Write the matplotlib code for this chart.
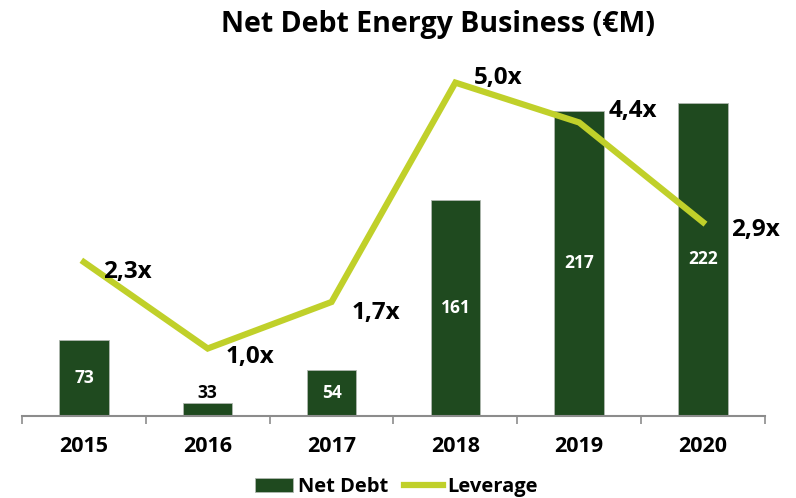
import matplotlib.pyplot as plt
import numpy as np

plt.rcParams['font.family'] = ['Open Sans', 'DejaVu Sans']
plt.rcParams['font.weight'] = 'bold'

years = ['2015', '2016', '2017', '2018', '2019', '2020']
net_debt = [73, 33, 54, 161, 217, 222]
leverage = [2.3, 1.0, 1.7, 5.0, 4.4, 2.9]
leverage_labels = ['2,3x', '1,0x', '1,7x', '5,0x', '4,4x', '2,9x']

bar_color = '#1f4a1f'
line_color = '#c0d02a'

fig = plt.figure(figsize=(7.96, 4.98), dpi=100)
ax = fig.add_axes([0.0276, 0.1647, 0.9334, 0.7148])
x = np.arange(len(years))

bars = ax.bar(x, net_debt, width=0.4, color=bar_color, edgecolor='#b0b8b0',
              linewidth=0.6, label='Net Debt', zorder=2)
ax.set_xlim(-0.5, 5.5)
ax.set_ylim(25, 249)

# etiquetas de barras
for xi, v in zip(x, net_debt):
    if v < 40:
        ax.text(xi, v + 0.5, str(v), ha='center', va='bottom', fontsize=12.5,
                fontweight='bold', color='black', zorder=5)
    else:
        ax.text(xi, 25 + (v - 25) / 2, str(v), ha='center', va='center',
                fontsize=12.5, fontweight='bold', color='white', zorder=5)

ax2 = ax.twinx()
ax2.set_ylim(-0.015, 5.34)
line, = ax2.plot(x, leverage, color=line_color, lw=4.5, label='Leverage',
                 solid_joinstyle='miter', zorder=3)

# desplazamiento de etiquetas (px)
offsets = [(43, -10), (42, -8), (44, -11), (43, 5), (54, 11), (52, -8)]
for xi, v, lab, (dx, dy) in zip(x, leverage, leverage_labels, offsets):
    ax2.annotate(lab, (xi, v), xytext=(dx * 0.72, dy * 0.72), textcoords='offset points',
                 ha='center', va='center', fontsize=17.5, fontweight='bold',
                 color='black', zorder=6)

for a in (ax, ax2):
    for s in ['top', 'right', 'left']:
        a.spines[s].set_visible(False)
    a.set_yticks([])
ax.spines['bottom'].set_color('#8c8c8c')
ax.spines['bottom'].set_linewidth(1.5)
ax2.spines['bottom'].set_visible(False)

ax.set_xticks(np.arange(-0.5, 6, 1), minor=False)
ax.set_xticklabels([])
ax.tick_params(axis='x', which='major', length=6, width=1.2, color='#8c8c8c')
ax.set_xticks(x, minor=True)
ax.set_xticklabels(years, minor=True, fontsize=15.5, fontweight='bold')
ax.tick_params(axis='x', which='minor', length=0, pad=14.5)

fig.text(0.55, 0.9357, 'Net Debt Energy Business (€M)', fontsize=20.5,
         fontweight='bold', ha='center', va='baseline')

fig.legend(handles=[bars, line], loc='center', bbox_to_anchor=(0.498, 0.022),
           ncol=2, frameon=False, fontsize=14.5, handlelength=1.9,
           columnspacing=0.8, handletextpad=0.25)

fig.savefig('out.png', dpi=100)
